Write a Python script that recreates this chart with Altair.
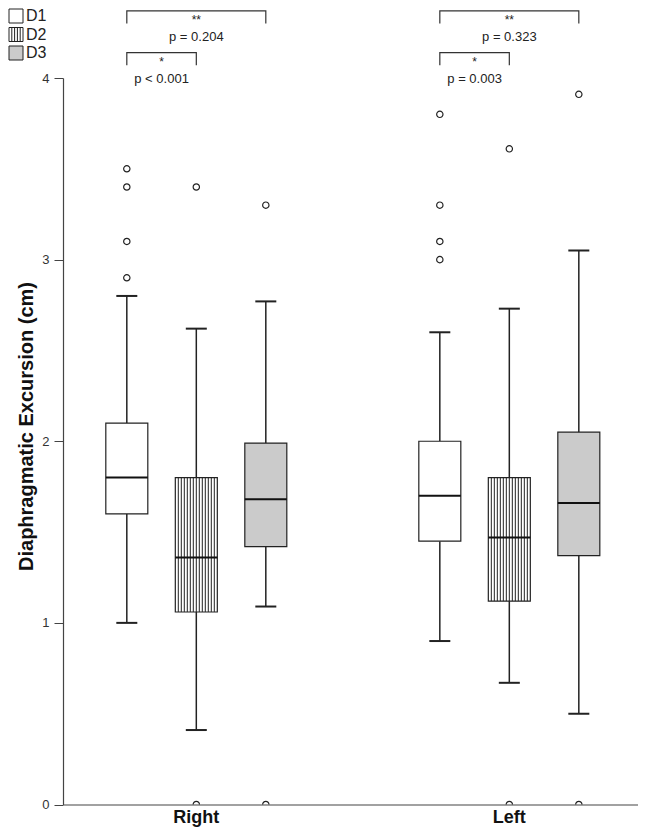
import altair as alt
import pandas as pd

FONT = "Liberation Sans"

# ---- box statistics (cm) ----
groups = ["Right", "Right", "Right", "Left", "Left", "Left"]
datasets = ["D1", "D2", "D3", "D1", "D2", "D3"]
lower = [1.00, 0.41, 1.09, 0.90, 0.67, 0.50]
q1 = [1.60, 1.06, 1.42, 1.45, 1.12, 1.37]
median = [1.80, 1.36, 1.68, 1.70, 1.47, 1.66]
q3 = [2.10, 1.80, 1.99, 2.00, 1.80, 2.05]
upper = [2.80, 2.62, 2.77, 2.60, 2.73, 3.05]

# ---- outliers ----
out_group = ["Right"] * 8 + ["Left"] * 8
out_dataset = ["D1"] * 4 + ["D2"] * 2 + ["D3"] * 2 + ["D1"] * 4 + ["D2"] * 2 + ["D3"] * 2
out_value = [3.50, 3.40, 3.10, 2.90, 3.40, 0.00, 3.30, 0.00,
             3.80, 3.30, 3.10, 3.00, 3.61, 0.00, 3.91, 0.00]

# ---- significance brackets ----
brk_group = ["Right", "Right", "Left", "Left"]
brk_from = ["D1", "D1", "D1", "D1"]
brk_to = ["D3", "D2", "D3", "D2"]
brk_mid = ["D2", "D1-D2", "D2", "D1-D2"]
brk_star = ["**", "*", "**", "*"]
brk_p = ["p = 0.204", "p < 0.001", "p = 0.323", "p = 0.003"]
brk_top = [4.37, 4.14, 4.37, 4.14]

slots = ["pad-a", "D1", "D1-D2", "D2", "D2-D3", "D3", "pad-b"]
cats = ["Right", "Left"]
legend_domain = ["D1", "D2", "D3"]

boxes = pd.DataFrame(dict(group=groups, dataset=datasets, lower=lower, q1=q1,
                          median=median, q3=q3, upper=upper))
outs = pd.DataFrame(dict(group=out_group, dataset=out_dataset, value=out_value))

drop = 0.07
line_rows = []
for i in range(len(brk_group)):
    pts = [(brk_from[i], brk_top[i] - drop), (brk_from[i], brk_top[i]),
           (brk_to[i], brk_top[i]), (brk_to[i], brk_top[i] - drop)]
    for j, (s, yv) in enumerate(pts):
        line_rows.append(dict(bid=i, group=brk_group[i], slot=s, y=yv, o=j))
brk_lines = pd.DataFrame(line_rows)
brk_text = pd.DataFrame(dict(group=brk_group, slot=brk_mid, star=brk_star, p=brk_p,
                             ystar=[t - 0.05 for t in brk_top],
                             yp=[t - 0.145 for t in brk_top]))

xs = alt.Scale(domain=cats, paddingInner=0.2, paddingOuter=0.0185, align=0.7)
xos = alt.Scale(domain=slots, paddingInner=0, paddingOuter=0.103)
ys = alt.Scale(domain=[0, 4], nice=False)

X = alt.X("group:N", scale=xs,
          axis=alt.Axis(title=None, labelAngle=0, ticks=False, labelFontSize=18,
                        labelFontWeight="bold", labelColor="#111", labelFont=FONT,
                        labelPadding=4, domainColor="#444", domainWidth=1.2))
XO = alt.XOffset("dataset:N", scale=xos)
Y_axis = alt.Axis(title="Diaphragmatic Excursion (cm)", values=[0, 1, 2, 3, 4], format="d",
                  tickSize=9, tickColor="#444", domainColor="#444", domainWidth=1.2,
                  labelFontSize=13, labelColor="#333", labelFont=FONT, labelPadding=5,
                  titleFontSize=20, titleFontWeight="bold", titleColor="#111",
                  titleFont=FONT, titlePadding=5, titleY=348, grid=False)

sq = "M-1,-1H1V1H-1Z"
striped = sq + " M-0.6,-1V1 M-0.2,-1V1 M0.2,-1V1 M0.6,-1V1"
fill_scale = alt.Scale(domain=legend_domain, range=["#ffffff", "#ffffff", "#cbcbcb"])
shape_scale = alt.Scale(domain=legend_domain, range=[sq, striped, sq])
stroke_scale = alt.Scale(domain=legend_domain, range=["#222222", "#222222", "#222222"])
leg = alt.Legend(title=None, orient="none", legendX=-55, legendY=-70, symbolSize=196,
                 symbolStrokeWidth=1, symbolOpacity=1,
                 labelFontSize=16, labelFont=FONT, labelColor="#222", labelOffset=2,
                 rowPadding=0.5, padding=0)

base = alt.Chart(boxes)

legend_pts = base.mark_point(filled=True, size=196, strokeWidth=1).encode(
    x=X, xOffset=XO, y=alt.Y("median:Q", scale=ys, axis=Y_axis),
    fill=alt.Fill("dataset:N", scale=fill_scale, legend=leg),
    shape=alt.Shape("dataset:N", scale=shape_scale, legend=leg),
    stroke=alt.Stroke("dataset:N", scale=stroke_scale, legend=leg),
)

whisk_lo = base.mark_rule(color="#222", strokeWidth=1.5).encode(
    x=X, xOffset=XO, y="lower:Q", y2="q1:Q")
whisk_hi = base.mark_rule(color="#222", strokeWidth=1.5).encode(
    x=X, xOffset=XO, y="q3:Q", y2="upper:Q")
cap_lo = base.mark_tick(size=21, thickness=2, color="#222", opacity=1).encode(
    x=X, xOffset=XO, y="lower:Q")
cap_hi = base.mark_tick(size=21, thickness=2, color="#222", opacity=1).encode(
    x=X, xOffset=XO, y="upper:Q")

box = base.mark_bar(width=42, stroke="#222", strokeWidth=1.2).encode(
    x=X, xOffset=XO, y="q1:Q", y2="q3:Q",
    fill=alt.Fill("dataset:N", scale=fill_scale, legend=leg),
)

stripes = base.transform_filter("datum.dataset == 'D2'").transform_calculate(
    k="sequence(-6, 7)").transform_flatten(["k"]).mark_rule(
    color="#222", strokeWidth=1, xOffset={"expr": "datum.k * 3"}).encode(
    x=X, y="q1:Q", y2="q3:Q")

med = base.mark_tick(size=42, thickness=2, color="#111", opacity=1).encode(
    x=X, xOffset=XO, y="median:Q")

pts = alt.Chart(outs).mark_point(size=40, color="#222", strokeWidth=1.2, clip=True,
                                 opacity=1).encode(
    x=X, xOffset=XO, y="value:Q")

lines = alt.Chart(brk_lines).mark_line(color="#333", strokeWidth=1.2).encode(
    x=X, xOffset=alt.XOffset("slot:N", scale=xos), y="y:Q",
    detail="bid:N", order="o:Q")

stars = alt.Chart(brk_text).mark_text(fontSize=12, font=FONT, color="#222",
                                      baseline="middle").encode(
    x=X, xOffset=alt.XOffset("slot:N", scale=xos), y="ystar:Q", text="star:N")
ptext = alt.Chart(brk_text).mark_text(fontSize=13, font=FONT, color="#222",
                                      baseline="middle").encode(
    x=X, xOffset=alt.XOffset("slot:N", scale=xos), y="yp:Q", text="p:N")

chart = alt.layer(legend_pts, whisk_lo, whisk_hi, cap_lo, cap_hi, box, stripes, med,
                  pts, lines, stars, ptext).properties(
    width=575, height=726.5,
    autosize=alt.AutoSizeParams(type="none"),
    padding={"left": 55, "top": 70, "right": 0, "bottom": 22},
    background="white",
).configure_view(stroke=None)

chart.save("out.html", embed_options={"renderer": "svg", "actions": False})
